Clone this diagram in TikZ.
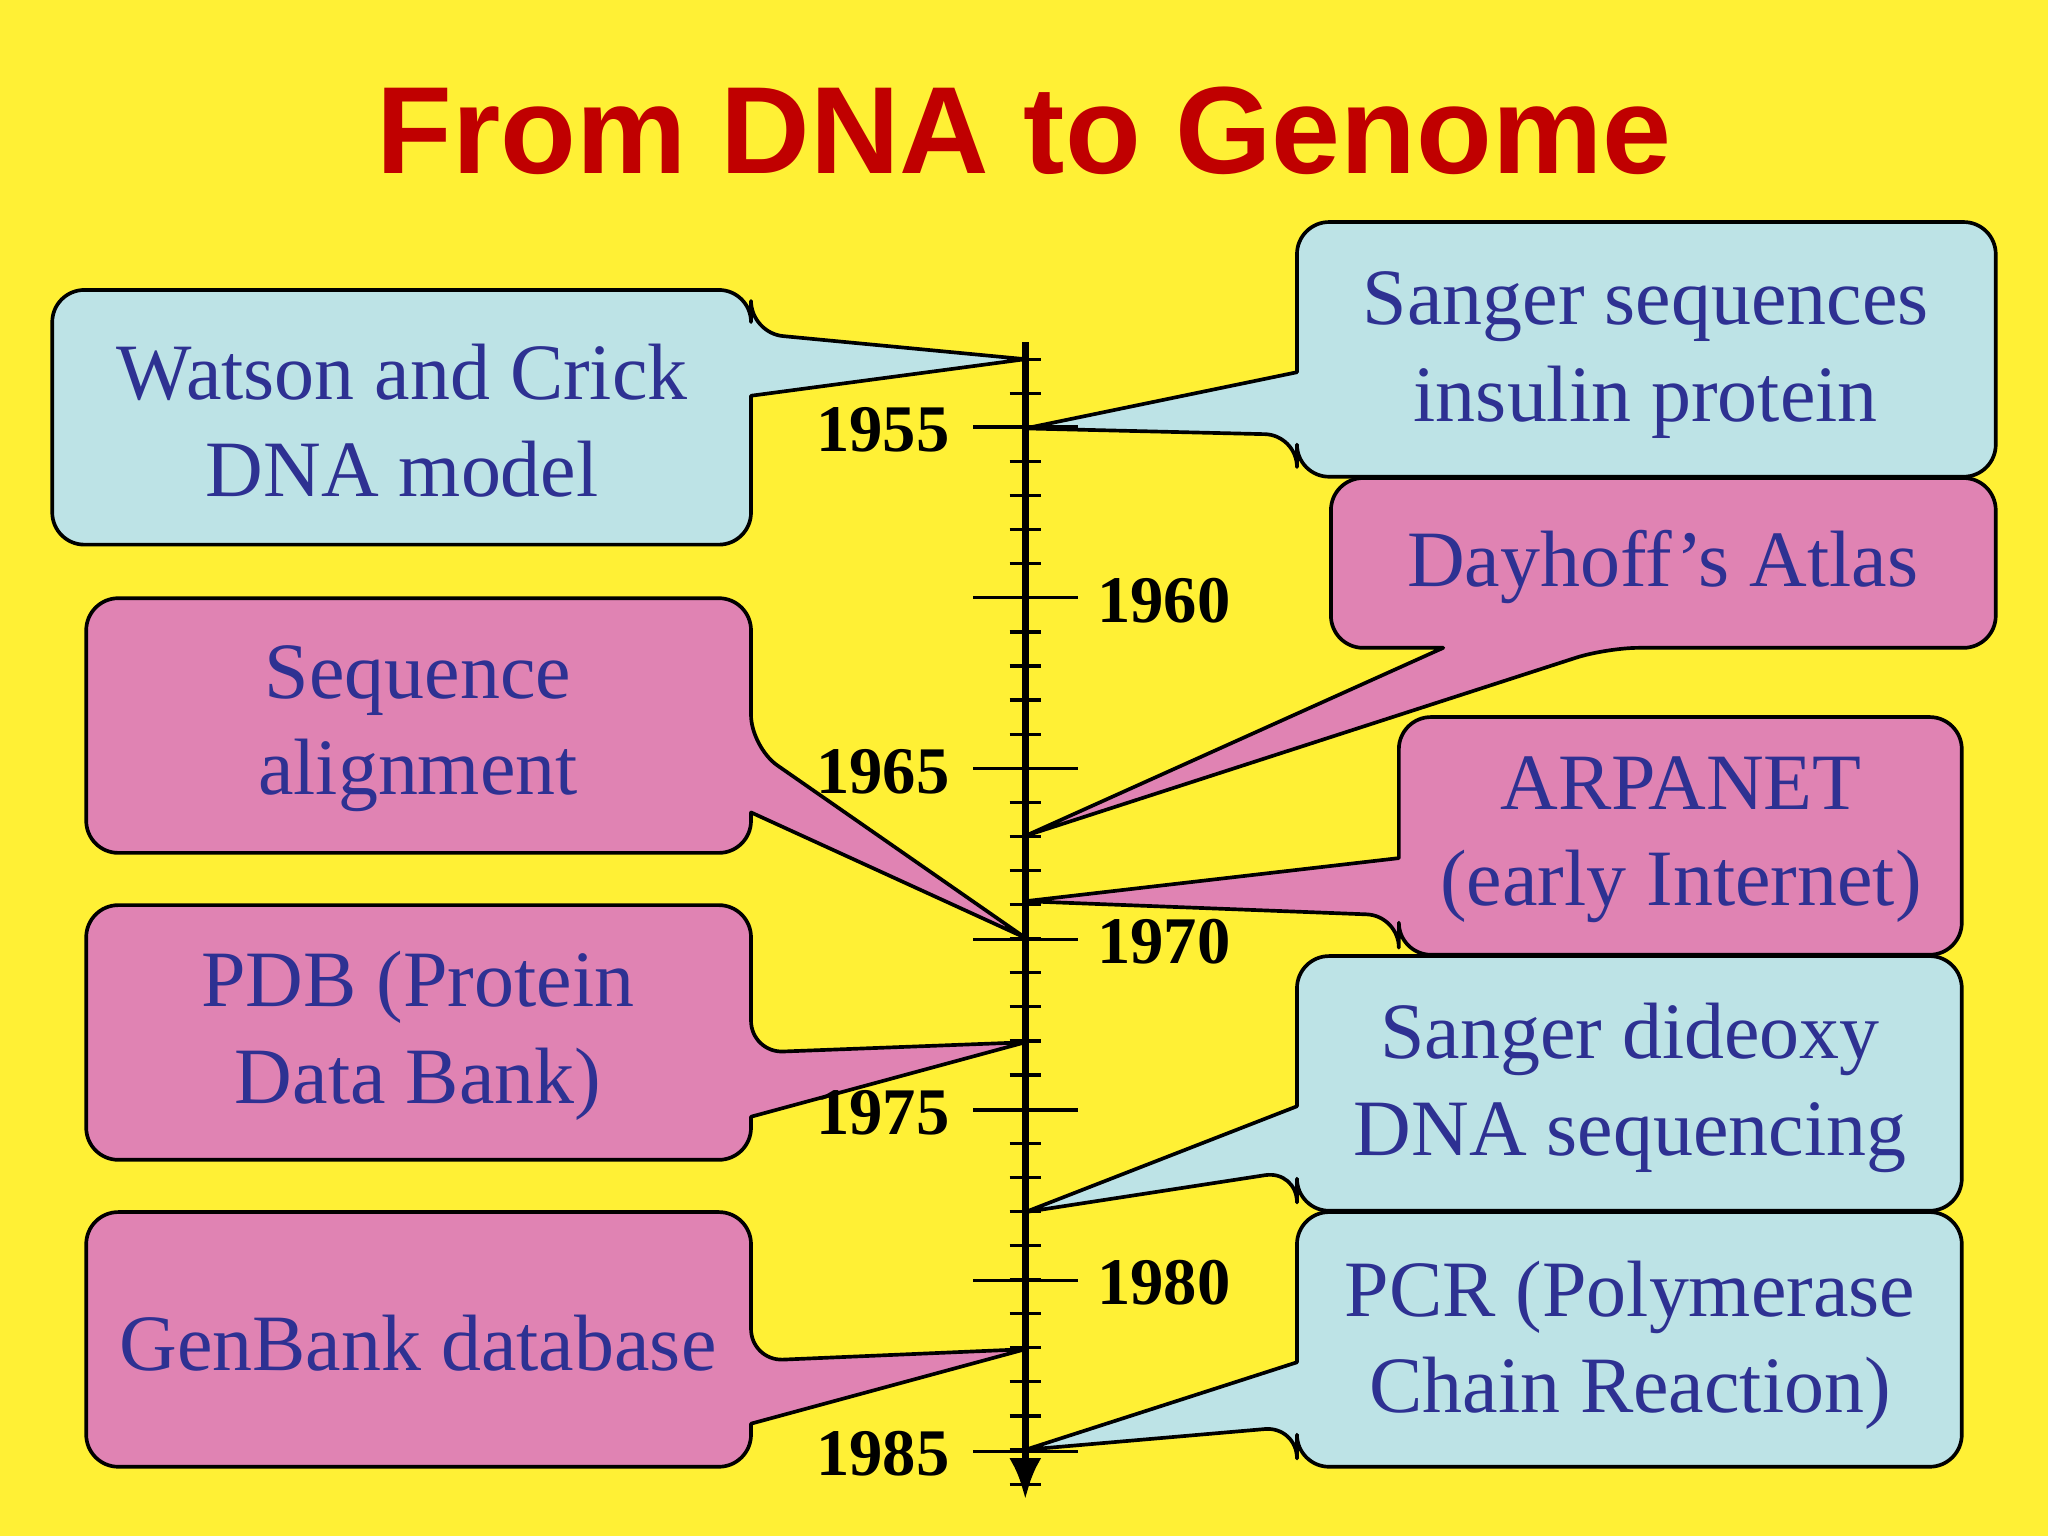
\documentclass[tikz,border=0pt]{standalone}
\usepackage{fontspec}
\usetikzlibrary{arrows.meta}
\setmainfont{Liberation Serif}
\newfontfamily\titlefont{Liberation Sans}
\definecolor{bg}{HTML}{FFF035}
\definecolor{cblue}{HTML}{BDE3E6}
\definecolor{cpink}{HTML}{E083B3}
\definecolor{ctext}{HTML}{2E3192}
\definecolor{ctitle}{HTML}{C00000}
\tikzset{
  callout/.style={draw=black, line width=0.8pt, line join=round},
  ctxt/.style={text=ctext, font=\fontsize{17.4}{21}\selectfont, align=center},
  year/.style={font=\bfseries\fontsize{14.5}{16}\selectfont},
  rc/.style={rounded corners=7pt},
}
\begin{document}
\begin{tikzpicture}[x=0.01cm,y=-0.01cm]
\fill[bg] (0,0) rectangle (1568,1176);
\useasboundingbox (0,0) rectangle (1568,1176);
\node[font=\titlefont\bfseries\fontsize{27}{32}\selectfont, text=ctitle] (title) at (784,100) {From DNA to Genome};
\draw[callout, fill=cblue] (300,222) [rc] -- (575,222) -- (575,255) [sharp corners] -- (785,275) -- (575,303) [rc] -- (575,417) -- (40,417) -- (40,222) -- (300,222);
\draw[callout, fill=cblue] (1260,170) [rc] -- (1528,170) -- (1528,365) -- (993,365) -- (993,333) [sharp corners] -- (785,328) -- (993,285) [rc] -- (993,170) -- (1260,170);
\draw[callout, fill=cpink] (1270,366) [rc] -- (1528,366) -- (1528,496) -- (1230,496) [sharp corners] -- (785,640) -- (1105,496) [rc] -- (1019,496) -- (1019,366) -- (1270,366);
\draw[callout, fill=cpink] (300,458) [rc] -- (575,458) -- (575,572) [sharp corners] -- (785,718) -- (575,622) [rc] -- (575,653) -- (66,653) -- (66,458) -- (300,458);
\draw[callout, fill=cpink] (1280,549) [rc] -- (1502,549) -- (1502,731) -- (1071,731) -- (1071,701) [sharp corners] -- (785,690) -- (1071,657) [rc] -- (1071,549) -- (1280,549);
\draw[callout, fill=cpink] (300,693) [rc] -- (575,693) -- (575,806) [sharp corners] -- (785,798) -- (575,855) [rc] -- (575,888) -- (66,888) -- (66,693) -- (300,693);
\draw[callout, fill=cblue] (1250,732) [rc] -- (1502,732) -- (1502,927) -- (993,927) -- (993,896) [sharp corners] -- (785,928) -- (993,847) [rc] -- (993,732) -- (1250,732);
\draw[callout, fill=cpink] (300,928) [rc] -- (575,928) -- (575,1042) [sharp corners] -- (785,1033) -- (575,1090) [rc] -- (575,1123) -- (66,1123) -- (66,928) -- (300,928);
\draw[callout, fill=cblue] (1250,928) [rc] -- (1502,928) -- (1502,1123) -- (993,1123) -- (993,1092) [sharp corners] -- (785,1110) -- (993,1043) [rc] -- (993,928) -- (1250,928);
\node[ctxt] (t1) at (308,322) {Watson and Crick\\DNA model};
\node[ctxt] (t2) at (1260,272) {Sanger sequences\\insulin protein};
\node[ctxt] (t3) at (1273,434) {Dayhoff’s Atlas};
\node[ctxt] (t4) at (320,558) {Sequence\\alignment};
\node[ctxt] (t5) at (1287,643) {ARPANET\\(early Internet)};
\node[ctxt] (t6) at (320,793) {PDB (Protein\\Data Bank)};
\node[ctxt] (t7) at (1248,833) {Sanger dideoxy\\DNA sequencing};
\node[ctxt] (t8) at (320,1028) {GenBank database};
\node[ctxt] (t9) at (1248,1030) {PCR (Polymerase\\Chain Reaction)};
\coordinate (atop) at (785,262);
\coordinate (abot) at (785,1148);
\draw[line width=1.6pt, -{Latex[length=9pt,width=7pt]}] (atop) -- (abot);
\foreach \i in {0,...,33} {
  \draw[line width=0.7pt] (773,{275+26.1*\i}) -- (797,{275+26.1*\i});
}
\foreach \i in {0,...,6} {
  \draw[line width=0.7pt] (745,{327+130.7*\i}) -- (825,{327+130.7*\i});
}
\node[year] (y55) at (676,329) {1955};
\node[year] (y60) at (891,460) {1960};
\node[year] (y65) at (676,591) {1965};
\node[year] (y70) at (891,721) {1970};
\node[year] (y75) at (676,852) {1975};
\node[year] (y80) at (891,982) {1980};
\node[year] (y85) at (676,1113) {1985};
\end{tikzpicture}
\end{document}
